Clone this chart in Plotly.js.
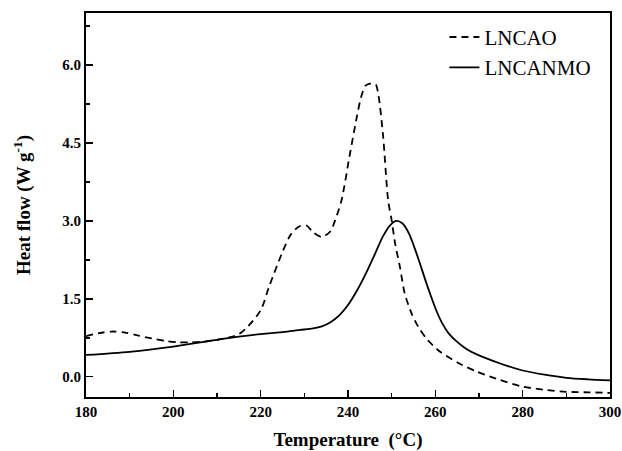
<!DOCTYPE html>
<html>
<head>
<meta charset="utf-8">
<script src="https://cdn.plot.ly/plotly-3.0.1.min.js"></script>
<style>html,body{margin:0;padding:0;background:#fff;}</style>
</head>
<body>
<div id="chart" style="width:622px;height:451px;"></div>
<script>
// LNCAO (dashed)
const lncaoT = [180, 183, 186, 189, 192, 195, 198, 201, 204, 207, 210, 213, 215, 217, 220, 222, 225, 227, 229, 230.5, 232, 234, 236, 237, 238.5, 240.3, 242, 243, 244, 245, 246.3, 247, 248, 249.2, 250, 250.8, 251.9, 253, 254.6, 256.1, 258, 261.1, 265.6, 269.5, 274, 280, 285, 290, 295, 300];
const lncaoH = [0.78, 0.84, 0.87, 0.85, 0.79, 0.74, 0.69, 0.665, 0.66, 0.675, 0.71, 0.76, 0.82, 0.96, 1.28, 1.75, 2.4, 2.75, 2.9, 2.91, 2.78, 2.69, 2.8, 3.0, 3.39, 4.22, 4.99, 5.38, 5.6, 5.64, 5.63, 5.4, 4.67, 3.39, 3.01, 2.56, 2.11, 1.6, 1.21, 0.96, 0.73, 0.48, 0.25, 0.1, -0.04, -0.19, -0.25, -0.29, -0.3, -0.31];
// LNCANMO (solid)
const lncanmoT = [180, 190, 200, 210, 215, 220, 225, 229, 232, 234, 236, 238, 240, 242, 244, 246, 248, 249.5, 251, 252.5, 254, 255.7, 258, 259, 260.3, 261.5, 263, 265, 267.2, 270, 275, 280, 285, 290, 295, 300];
const lncanmoH = [0.42, 0.48, 0.58, 0.71, 0.77, 0.82, 0.86, 0.9, 0.93, 0.97, 1.05, 1.18, 1.38, 1.65, 1.97, 2.33, 2.7, 2.9, 3.0, 2.95, 2.75, 2.37, 1.79, 1.55, 1.26, 1.04, 0.84, 0.67, 0.53, 0.41, 0.25, 0.12, 0.04, -0.02, -0.05, -0.07];

const xTicks = [180, 200, 220, 240, 260, 280, 300];
const yTicks = [0, 1.5, 3.0, 4.5, 6.0];

const serif = "'Liberation Serif', 'Times New Roman', serif";

const traces = [
  {x: lncaoT, y: lncaoH, name: 'LNCAO', mode: 'lines', type: 'scatter',
   line: {color: '#000', width: 1.8, dash: '7px,5px', shape: 'spline', smoothing: 0.8}},
  {x: lncanmoT, y: lncanmoH, name: 'LNCANMO', mode: 'lines', type: 'scatter',
   line: {color: '#000', width: 1.8, shape: 'spline', smoothing: 0.8}}
];

const axisCommon = {
  showgrid: false, zeroline: false, showline: true, linecolor: '#000', linewidth: 2,
  mirror: true, ticks: 'inside', ticklen: 7, tickwidth: 1.5, tickcolor: '#000',
  tickfont: {family: serif, size: 15, color: '#000', weight: 700}
};

const layout = {
  width: 622, height: 451,
  margin: {l: 86, r: 12, t: 13, b: 54},
  paper_bgcolor: '#fff', plot_bgcolor: '#fff',
  showlegend: true,
  legend: {x: 0.684, y: 0.99, xanchor: 'left', yanchor: 'top', bgcolor: 'rgba(0,0,0,0)',
           font: {family: serif, size: 21, color: '#000'}, tracegroupgap: 0},
  xaxis: Object.assign({}, axisCommon, {
    range: [180, 300], tickvals: xTicks, ticktext: xTicks.map(String),
    minor: {dtick: 10, tick0: 180, ticks: 'inside', ticklen: 4, tickwidth: 1.5, tickcolor: '#000', showgrid: false},
    title: {text: 'Temperature\u00a0 (°C)', font: {family: serif, size: 19, color: '#000', weight: 700}, standoff: 14}
  }),
  yaxis: Object.assign({}, axisCommon, {
    range: [-0.39, 7.0], tickvals: yTicks, ticktext: yTicks.map(v => v.toFixed(1)),
    minor: {dtick: 0.75, tick0: 0, ticks: 'inside', ticklen: 4, tickwidth: 1.5, tickcolor: '#000', showgrid: false},
    title: {text: 'Heat flow (W g<sup>-1</sup>)', font: {family: serif, size: 19, color: '#000', weight: 700}, standoff: 27}
  })
};

Plotly.newPlot('chart', traces, layout, {displayModeBar: false, staticPlot: true});
</script>
</body>
</html>
